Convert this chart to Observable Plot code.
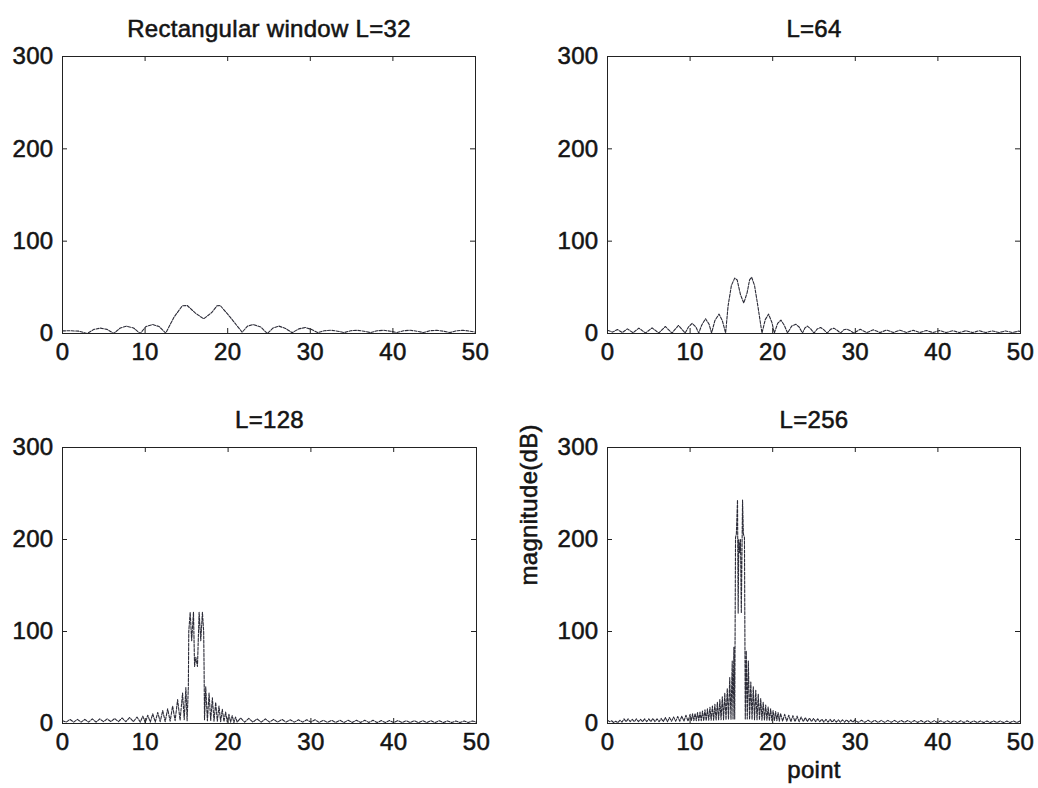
<!DOCTYPE html>
<html><head><meta charset="utf-8">
<script src="https://cdn.jsdelivr.net/npm/d3@7"></script>
<script src="https://cdn.jsdelivr.net/npm/@observablehq/plot@0.6"></script>
<style>
body{margin:0;background:#fff;}
#wrap{position:relative;width:1038px;height:788px;overflow:hidden;background:#fff;}
#wrap svg{position:absolute;}
#wrap svg text{stroke:#141414;stroke-width:0.55px;letter-spacing:0.3px;}
</style></head><body><div id="wrap"></div>
<script>
const xTicks = [0, 10, 20, 30, 40, 50];
const yTicks = [0, 100, 200, 300];
const titles = ["Rectangular window L=32", "L=64", "L=128", "L=256"];
const xLabel = "point";
const yLabel = "magnitude(dB)";

const L32 = [[0,2.8],[1,3],[2,2.5],[3,0],[3.8,4.5],[4.6,5.8],[5.4,4.5],[6.2,0],[7,6],[7.75,8],[8.6,6],[9.4,0],[10.1,7.5],[10.9,9.7],[11.7,7.5],[12.5,0.5],[13.5,17.7],[14.5,30],[15.1,30.3],[16.1,22],[17.1,15.9],[18.1,23],[18.7,30],[19.1,30.3],[20.3,17.7],[21.75,1.4],[22.4,8],[23.1,9.7],[24,7],[24.8,0],[25.5,6],[26.2,8],[27,5.5],[27.8,0.8],[28.6,5],[29.4,6.5],[30.1,4.5],[30.9,1],[31.7,3],[32.5,3.5],[33.3,2.5],[34.1,1],[34.9,3],[35.7,3.5],[36.5,2.5],[37.3,1],[38.1,3],[38.9,3.5],[39.7,2.5],[40.5,1],[41.3,3],[42.1,3.5],[42.9,2.5],[43.7,1],[44.5,3],[45.3,3.5],[46.1,2.5],[46.9,1],[47.7,3],[48.5,3.5],[49.3,2.5],[50,1.5]];

const L64 = [[0,3.5],[0.6,1.5],[1.2,4.3],[1.8,1],[2.4,5],[3.1,0.8],[3.8,5.8],[4.6,0.5],[5.4,6.1],[6.2,0.5],[7.0,7.6],[7.8,0.5],[8.6,8.7],[9.4,0.5],[9.8,7],[10.25,11],[10.7,7],[11.05,0.5],[11.4,9],[11.87,16],[12.3,10],[12.6,0.5],[13.0,14],[13.5,21],[13.9,14],[14.3,0.5],[14.6,30],[15.0,52],[15.4,60],[15.7,58],[16.1,42],[16.5,33],[16.9,44],[17.2,58],[17.45,61],[17.8,52],[18.2,30],[18.7,0.5],[19.1,15],[19.5,21],[19.9,12],[20.2,0.5],[20.6,11],[21.0,14.5],[21.4,9],[21.8,0.5],[22.3,8],[22.8,10],[23.2,7],[23.6,0.5],[23.9,6],[24.2,8],[24.6,5],[25.0,0.5],[25.4,5],[25.8,6.5],[26.2,4],[26.6,0.5],[27.0,4.5],[27.4,5.8],[27.8,3.5],[28.2,0.5],[28.6,4],[29,4.7],[29.4,3],[29.8,0.5],[30.6,4.5],[31.4,1],[32.2,4],[33,1],[33.8,3.8],[34.6,1],[35.4,3.6],[36.2,1],[37,3.5],[37.8,1],[38.6,3.3],[39.4,1],[40.2,3.2],[41,1],[41.8,3],[42.6,1],[43.4,3],[44.2,1],[45,3],[45.8,1],[46.6,2.8],[47.4,1],[48.2,2.8],[49,1],[49.8,2.6],[50,2]];

const L128 = [[0,3],[0.45,1.5],[0.9,4.5],[1.35,1.5],[1.8,4.5],[2.25,1.5],[2.7,4.5],[3.15,1.5],[3.6,5],[4.05,1.5],[4.5,5],[4.95,2],[5.4,5],[5.85,2],[6.3,5.5],[6.75,2],[7.2,6],[7.65,2],[8.1,6.5],[8.55,2],[9.0,7],[9.4,1.5],
[9.7,8],[10.0,1],[10.3,9],[10.6,1.5],[10.9,10.5],[11.2,1.5],[11.5,12],[11.8,2],[12.1,14],[12.4,2],[12.7,16],[13.0,2.5],[13.3,19],[13.6,3],[13.9,26],[14.2,3.5],[14.5,33],[14.7,4],[14.9,39],[15.05,3],
[15.2,40],[15.25,100],[15.42,121],[15.6,90],[15.82,121],[15.95,62],[16.1,72],[16.3,62],[16.5,121],[16.7,90],[16.9,121],[17.05,100],[17.1,60],[17.15,4],
[17.3,40],[17.5,3],[17.7,33],[17.9,3],[18.1,28],[18.3,2.5],[18.5,23],[18.7,2.5],[18.9,19],[19.1,2],[19.3,15.5],[19.5,2],[19.7,12.5],[19.9,1.5],[20.1,10],[20.3,1.5],[20.5,8.5],[20.7,1],[20.9,7],[21.1,1.5],
[21.5,6],[22,1.5],[22.5,5.5],[23,1.5],[23.5,5],[24,1.5],[24.5,5],[25,1.5],[25.5,4.5],[26,1.5],[26.5,4.5],[27,1.5],[27.5,4],[28,1.5],[28.5,4],[29,1.5],[29.5,4],[30,1.5],[30.5,4],[31,1.2],[31.5,3.5],[32,1.2],[32.5,3.5],[33,1.2],[33.5,3.5],[34,1.2],[34.5,3.5],[35,1.2],[35.5,3.5],[36,1.2],[36.5,3.5],[37,1.2],[37.5,3.5],[38,1],[38.5,3.2],[39,1],[39.5,3.2],[40,1],[40.5,3.2],[41,1],[41.5,3],[42,1],[42.5,3],[43,1],[43.5,3],[44,1],[44.5,3],[45,1],[45.5,3],[46,1],[46.5,2.8],[47,1],[47.5,2.8],[48,1],[48.5,2.8],[49,1],[49.5,2.8],[50,1.5]];

const L256 = [[0,3.6],[0.25,2],[0.5,3],[0.75,1],[1.0,2.5],[1.25,1],[1.5,3.5],[1.75,1.5],[2.0,5],[2.25,2],[2.5,5],[2.75,2],[3.0,4.5],[3.25,2],[3.5,5],[3.75,2],[4.0,4.5],[4.25,2],[4.5,5],[4.75,2],[5.0,5],[5.25,2],[5.5,5.5],[5.75,2],[6.0,5],[6.25,2],[6.5,5.5],[6.75,2],[7.0,6.5],[7.25,2],[7.5,6.5],[7.75,2.5],[8.0,7],[8.25,2.5],[8.5,7.5],[8.75,2.5],[9.0,8],[9.25,2.5],[9.5,9],[9.75,2.5],
[10.0,10],[10.15,3],[10.3,10.5],[10.45,3],[10.6,11],[10.75,3],[10.9,12],[11.05,3],[11.2,12.5],[11.35,3],[11.5,13.5],[11.65,3],[11.8,15],[11.95,3],[12.1,16],[12.25,3.5],[12.4,17.5],[12.55,3.5],[12.7,19],[12.85,3.5],[13.0,21],[13.15,3.5],[13.3,23],[13.45,4],[13.6,26],[13.75,4],[13.9,29],[14.05,4],[14.2,33],[14.35,4],[14.5,38],[14.65,4.5],[14.8,50],[14.95,4.5],[15.1,68],[15.2,5],[15.3,83],[15.4,5],
[15.5,202],[15.6,206],[15.74,243],[15.82,120],[15.9,200],[16.0,186],[16.1,200],[16.2,120],[16.35,243],[16.45,206],[16.58,202],[16.68,5],
[16.8,79],[16.92,5],[17.05,68],[17.2,4.5],[17.35,45],[17.5,4.5],[17.65,40],[17.8,4],[17.95,36],[18.1,4],[18.25,32],[18.4,4],[18.55,27],[18.7,3.5],[18.85,23],[19.0,3.5],[19.15,20],[19.3,3.5],[19.45,18],[19.6,3],[19.75,16],[19.9,3],[20.05,14],[20.2,3],[20.35,13],[20.5,3],[20.65,12],[20.8,2.5],[20.95,11],
[21.2,2.5],[21.45,10],[21.7,2.5],[21.95,9],[22.2,2],[22.45,8.5],[22.7,2],[22.95,8],[23.2,2],[23.45,7],[23.7,2],[23.95,6.5],[24.2,2],[24.45,6],[24.7,2],[24.95,5.5],[25.2,2],[25.45,5],[25.7,2],[25.95,4.7],[26.2,1.5],[26.45,4.5],[26.7,1.5],[26.95,4.5],[27.2,1.5],[27.45,4.2],[27.7,1.5],[27.95,4],[28.2,1.5],[28.45,4],[28.7,1.5],[28.95,4],[29.2,1.5],[29.45,3.8],[29.7,1.5],[29.95,3.8],
[30.35,1.2],[30.75,3.5],[31.15,1.2],[31.55,3.5],[31.95,1.2],[32.35,3.5],[32.75,1.2],[33.15,3.4],[33.55,1.2],[33.95,3.4],[34.35,1.2],[34.75,3.4],[35.15,1.2],[35.55,3.3],[35.95,1.2],[36.35,3.3],[36.75,1.2],[37.15,3.2],[37.55,1.2],[37.95,3.2],[38.35,1],[38.75,3.2],[39.15,1],[39.55,3.1],[39.95,1],[40.35,3],[40.75,1],[41.15,3],[41.55,1],[41.95,3],[42.35,1],[42.75,3],[43.15,1],[43.55,2.9],[43.95,1],[44.35,2.9],[44.75,1],[45.15,2.8],[45.55,1],[45.95,2.8],[46.35,1],[46.75,2.8],[47.15,1],[47.55,2.7],[47.95,1],[48.35,2.7],[48.75,1],[49.15,2.7],[49.55,1],[49.95,2.6]];

const FONT = "'Liberation Sans', Arial, Helvetica, sans-serif";
const TXT = "#141414";
const LINE = "#2c2c38";
const FS = 24;

function panel(data, title, g, extra) {
  const xTickLen = 5 * 50 / (g.width - g.mL - g.mR);
  const yTickLen = 5 * 300 / (g.height - g.mT - g.mB);
  const marks = [
    Plot.line(data, {x: d => d[0], y: d => d[1], stroke: LINE, strokeWidth: 1.1, strokeDasharray: "3,1.4"}),
    Plot.ruleX(xTicks, {x: d => d, y1: 0, y2: yTickLen, stroke: "#222"}),
    Plot.ruleX(xTicks, {x: d => d, y1: 300 - yTickLen, y2: 300, stroke: "#222"}),
    Plot.ruleY(yTicks, {y: d => d, x1: 0, x2: xTickLen, stroke: "#222"}),
    Plot.ruleY(yTicks, {y: d => d, x1: 50 - xTickLen, x2: 50, stroke: "#222"}),
    Plot.frame({stroke: "#222", strokeWidth: 1}),
    Plot.axisX({ticks: xTicks, anchor: "bottom", tickSize: 0, tickPadding: 9, fontSize: FS, fill: TXT, label: null}),
    Plot.axisY({ticks: yTicks, anchor: "left", tickSize: 0, tickPadding: 9, fontSize: FS, fill: TXT, label: null}),
    Plot.text([title], {frameAnchor: "top", dy: -27, fontSize: FS, fill: TXT, lineAnchor: "middle"})
  ];
  if (extra) {
    marks.push(Plot.text([xLabel], {frameAnchor: "bottom", dy: 47, fontSize: FS, fill: TXT, lineAnchor: "middle"}));
    marks.push(Plot.text([yLabel], {frameAnchor: "left", rotate: -90, dx: -78, fontSize: FS, fill: TXT, lineAnchor: "middle"}));
  }
  const svg = Plot.plot({
    width: g.width, height: g.height,
    marginLeft: g.mL, marginRight: g.mR, marginTop: g.mT, marginBottom: g.mB,
    x: {domain: [0, 50], axis: null},
    y: {domain: [0, 300], axis: null},
    style: {fontFamily: FONT, fontSize: FS + "px", color: TXT, background: "white", overflow: "visible"},
    marks
  });
  svg.style.left = g.left + "px";
  svg.style.top = g.top + "px";
  svg.style.position = "absolute";
  document.getElementById("wrap").appendChild(svg);
}

panel(L32, titles[0], {left: 0, top: 0, width: 494, height: 394, mL: 62, mR: 19, mT: 56, mB: 61});
panel(L64, titles[1], {left: 494, top: 0, width: 544, height: 394, mL: 113, mR: 18, mT: 56, mB: 61});
panel(L128, titles[2], {left: 0, top: 394, width: 494, height: 394, mL: 62, mR: 18, mT: 53, mB: 65});
panel(L256, titles[3], {left: 494, top: 394, width: 544, height: 394, mL: 113, mR: 18, mT: 53, mB: 65}, true);
</script></body></html>
